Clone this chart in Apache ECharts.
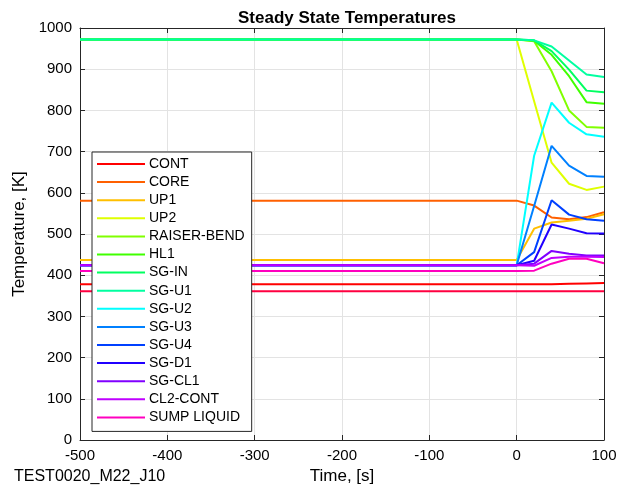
<!DOCTYPE html>
<html>
<head>
<meta charset="utf-8">
<script src="https://cdn.jsdelivr.net/npm/echarts@6/dist/echarts.min.js"></script>
<style>
html,body{margin:0;padding:0;background:#fff;}
#c{width:631px;height:490px;}
</style>
</head>
<body>
<div id="c"></div>
<script>
const times = [-500, 0, 20, 40, 60, 80, 100];
const xTicks = [-500, -400, -300, -200, -100, 0, 100];
const yTicks = [0, 100, 200, 300, 400, 500, 600, 700, 800, 900, 1000];

const CONT        = [378, 378, 378, 378, 379, 380, 381];
const CORE        = [581, 581, 569, 540, 536, 541, 553];
const UP1         = [437, 437, 513, 528, 532, 537, 548];
const UP2         = [972, 972, 822, 673, 622, 607, 615];
const RAISER_BEND = [972, 972, 968, 895, 800, 760, 758];
const HL1         = [972, 972, 969, 935, 883, 820, 816];
const SG_IN       = [972, 972, 970, 944, 899, 848, 844];
const SG_U1       = [972, 972, 970, 955, 921, 887, 881];
const SG_U2       = [424, 424, 690, 819, 770, 742, 736];
const SG_U3       = [424, 424, 568, 714, 666, 641, 639];
const SG_U4       = [424, 424, 456, 582, 547, 536, 532];
const SG_D1       = [424, 424, 435, 523, 513, 502, 501];
const SG_CL1      = [424, 424, 428, 459, 452, 448, 448];
const CL2_CONT    = [424, 424, 423, 442, 445, 445, 444];
const SUMP_LIQUID = [410, 410, 411, 428, 440, 440, 429];
const UNLABELED   = [361, 361, 361, 361, 361, 361, 361];

const names = ['CONT','CORE','UP1','UP2','RAISER-BEND','HL1','SG-IN','SG-U1','SG-U2','SG-U3','SG-U4','SG-D1','SG-CL1','CL2-CONT','SUMP LIQUID',' '];
const values = [CONT, CORE, UP1, UP2, RAISER_BEND, HL1, SG_IN, SG_U1, SG_U2, SG_U3, SG_U4, SG_D1, SG_CL1, CL2_CONT, SUMP_LIQUID, UNLABELED];
const colors = ['#ff0000','#ff6000','#ffbf00','#dfff00','#80ff00','#40ff00','#00ff60','#00ffa0',
                '#00ffff','#0080ff','#0040ff','#2000ff','#8000ff','#bf00ff','#ff00bf','#ff0040'];

const FONT = 'Liberation Sans, Arial, Helvetica, sans-serif';
const chart = echarts.init(document.getElementById('c'));

const series = values.map((v, i) => ({
  name: names[i],
  type: 'line',
  data: times.map((t, j) => [t, v[j]]),
  symbol: 'none',
  lineStyle: { color: colors[i], width: 2 },
  itemStyle: { color: colors[i] },
  z: 2,
  xAxisIndex: 0,
  yAxisIndex: 0
}));

const axisCol = '#262626';
const lineIcon = 'path://M0,0 L48,0 L48,2 L0,2 Z';
chart.setOption({
  animation: false,
  backgroundColor: '#ffffff',
  title: {
    text: 'Steady State Temperatures',
    left: 342, top: 5, textAlign: 'center',
    textStyle: { fontFamily: FONT, fontSize: 17, fontWeight: 'bold', color: '#000' }
  },
  graphic: [
    { type: 'text', left: 14, top: 469,
      style: { text: 'TEST0020_M22_J10', fontFamily: FONT, fontSize: 16, fill: '#000' } }
  ],
  grid: { left: 80, right: 27, top: 28, bottom: 50, containLabel: false },
  legend: {
    data: names.slice(0, 15),
    orient: 'vertical',
    left: 92, top: 152,
    z: 100,
    icon: lineIcon,
    symbolKeepAspect: true,
    itemWidth: 48, itemHeight: 14, itemGap: 4.1,
    padding: [5, 7, 7, 5],
    backgroundColor: '#ffffff',
    borderColor: '#262626', borderWidth: 1,
    textStyle: { fontFamily: FONT, fontSize: 14, color: '#000', padding: [0, 0, 0, -1] },
    selectedMode: false
  },
  xAxis: [
    { type: 'value', min: -500, max: 100, interval: 100, position: 'bottom',
      name: 'Time, [s]', nameLocation: 'middle', nameGap: 24,
      nameTextStyle: { fontFamily: FONT, fontSize: 17, color: '#000' },
      axisLine: { show: true, onZero: false, lineStyle: { color: axisCol, width: 1 } },
      axisTick: { show: true, inside: true, length: 5, lineStyle: { color: axisCol } },
      axisLabel: { fontFamily: FONT, fontSize: 15, color: '#000', margin: 8,
        formatter: v => (xTicks.includes(v) ? String(v) : '') },
      splitLine: { show: true, lineStyle: { color: '#e3e3e3', width: 1 } } },
    { type: 'value', min: -500, max: 100, interval: 100, position: 'top',
      axisLine: { show: true, onZero: false, lineStyle: { color: axisCol, width: 1 } },
      axisTick: { show: true, inside: true, length: 5, lineStyle: { color: axisCol } },
      axisLabel: { show: false }, splitLine: { show: false } }
  ],
  yAxis: [
    { type: 'value', min: 0, max: 1000, interval: 100, position: 'left',
      name: 'Temperature, [K]', nameLocation: 'middle', nameGap: 46, nameRotate: 90,
      nameTextStyle: { fontFamily: FONT, fontSize: 17, color: '#000' },
      axisLine: { show: true, onZero: false, lineStyle: { color: axisCol, width: 1 } },
      axisTick: { show: true, inside: true, length: 5, lineStyle: { color: axisCol } },
      axisLabel: { fontFamily: FONT, fontSize: 15, color: '#000', margin: 8,
        formatter: v => (yTicks.includes(v) ? String(v) : '') },
      splitLine: { show: true, lineStyle: { color: '#e3e3e3', width: 1 } } },
    { type: 'value', min: 0, max: 1000, interval: 100, position: 'right',
      axisLine: { show: true, onZero: false, lineStyle: { color: axisCol, width: 1 } },
      axisTick: { show: true, inside: true, length: 5, lineStyle: { color: axisCol } },
      axisLabel: { show: false }, splitLine: { show: false } }
  ],
  series: series
});
</script>
</body>
</html>
